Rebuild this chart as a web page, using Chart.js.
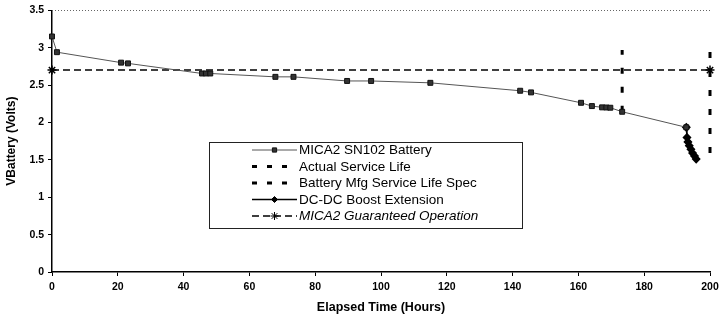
<!DOCTYPE html>
<html><head><meta charset="utf-8">
<script src="https://cdn.jsdelivr.net/npm/chart.js@4.4.1/dist/chart.umd.min.js"></script>
<style>html,body{margin:0;padding:0;background:#fff}#wrap{width:719px;height:322px;position:relative}</style>
</head><body><div id="wrap"><canvas id="c" width="719" height="322"></canvas></div>
<script>
// ---- data ----
const batteryHours = [0, 1.5, 21, 23.1, 45.6, 46.8, 48.1, 67.9, 73.4, 89.7, 97, 115, 142.3, 145.6, 160.8, 164.1, 167.2, 168.5, 169.7, 173.3, 192.8];
const batteryVolts = [3.15, 2.94, 2.80, 2.79, 2.655, 2.655, 2.655, 2.61, 2.61, 2.555, 2.555, 2.53, 2.424, 2.402, 2.263, 2.219, 2.202, 2.2, 2.197, 2.143, 1.935];
const actualLifeHours = [173.3, 173.3];
const actualLifeVolts = [2.143, 2.97];
const specLifeHours = [200, 200];
const specLifeVolts = [1.59, 3.0];
const boostHours = [192.8, 193.0, 193.3, 193.7, 194.2, 194.7, 195.3, 195.8];
const boostVolts = [1.935, 1.80, 1.74, 1.69, 1.64, 1.59, 1.55, 1.51];
const guaranteedHours = [0, 200];
const guaranteedVolts = [2.7, 2.7];
const seriesNames = ['MICA2 SN102 Battery', 'Actual Service Life', 'Battery Mfg Service Life Spec', 'DC-DC Boost Extension', 'MICA2 Guaranteed Operation'];
const xTickLabels = ['0','20','40','60','80','100','120','140','160','180','200'];
const yTickLabels = ['0','0.5','1','1.5','2','2.5','3','3.5'];
const xTitle = 'Elapsed Time (Hours)';
const yTitle = 'VBattery (Volts)';

const pts = (xs, ys) => xs.map((x, i) => ({x, y: ys[i]}));
const FONT = '"Liberation Sans", Arial, sans-serif';

const topLinePlugin = {
  id: 'topLine',
  beforeDatasetsDraw(chart) {
    const {ctx, chartArea: a, scales: {y}} = chart;
    const yy = Math.round(y.getPixelForValue(3.5)) + 0.5;
    ctx.save();
    ctx.strokeStyle = '#666'; ctx.lineWidth = 1; ctx.setLineDash([1, 2]);
    ctx.beginPath(); ctx.moveTo(a.left, yy); ctx.lineTo(a.right, yy); ctx.stroke();
    ctx.restore();
  }
};

const legendPlugin = {
  id: 'boxLegend',
  afterDraw(chart) {
    const {ctx} = chart;
    const bx = 209, by = 142, bw = 313, bh = 86;
    ctx.save();
    ctx.fillStyle = '#fff'; ctx.fillRect(bx, by, bw, bh);
    ctx.strokeStyle = '#222'; ctx.lineWidth = 1; ctx.setLineDash([]);
    ctx.strokeRect(bx + 0.5, by + 0.5, bw, bh);
    const x0 = 252, x1 = 297, tx = 299;
    chart.data.datasets.forEach((ds, i) => {
      const yy = 150 + i * 16.5;
      ctx.save();
      ctx.strokeStyle = ds.borderColor; ctx.lineWidth = ds.legendLineWidth || ds.borderWidth;
      ctx.setLineDash(ds.legendDash || ds.borderDash || []);
      ctx.beginPath(); ctx.moveTo(x0, yy); ctx.lineTo(x1, yy); ctx.stroke();
      ctx.restore();
      if (ds.pointRadius > 0) {
        ctx.save();
        ctx.setLineDash([]);
        ctx.fillStyle = ds.pointBackgroundColor; ctx.strokeStyle = ds.pointBorderColor; ctx.lineWidth = 1;
        Chart.helpers.drawPoint(ctx, {pointStyle: ds.pointStyle, radius: ds.pointRadius - 0.5, borderWidth: 1}, (x0 + x1) / 2, yy);
        ctx.restore();
      }
      ctx.fillStyle = '#000';
      ctx.font = (ds.italicLabel ? 'italic ' : '') + '13.5px ' + FONT;
      ctx.textBaseline = 'middle'; ctx.textAlign = 'left';
      ctx.fillText(ds.label, tx, yy + 0.5);
    });
    ctx.restore();
  }
};

new Chart(document.getElementById('c'), {
  type: 'scatter',
  data: {
    datasets: [
      { label: seriesNames[0], data: pts(batteryHours, batteryVolts), showLine: true, clip: false,
        borderColor: '#555', borderWidth: 1, pointStyle: 'rect', pointRadius: 3.5,
        pointBackgroundColor: '#333', pointBorderColor: '#111', pointBorderWidth: 1 },
      { label: seriesNames[1], data: pts(actualLifeHours, actualLifeVolts), showLine: true, clip: false,
        borderColor: '#000', borderWidth: 3, borderDash: [6, 13], legendDash: [5, 10], pointRadius: 0 },
      { label: seriesNames[2], data: pts(specLifeHours, specLifeVolts), showLine: true, clip: false,
        borderColor: '#000', borderWidth: 3, borderDash: [6, 13], legendDash: [5, 10], pointRadius: 0 },
      { label: seriesNames[3], data: pts(boostHours, boostVolts), showLine: true, clip: false,
        borderColor: '#000', borderWidth: 1.5, pointStyle: 'rectRot', pointRadius: 3.5,
        pointBackgroundColor: '#000', pointBorderColor: '#000' },
      { label: seriesNames[4], data: pts(guaranteedHours, guaranteedVolts), showLine: true, italicLabel: true, clip: false,
        borderColor: '#000', borderWidth: 1.5, borderDash: [7, 4], pointStyle: 'star', pointRadius: 4.5,
        pointBackgroundColor: '#000', pointBorderColor: '#000', pointBorderWidth: 1.5 }
    ]
  },
  options: {
    responsive: false, animation: false, devicePixelRatio: 1,
    layout: { padding: { left: 0, right: 0, top: 10, bottom: 7 } },
    plugins: { legend: { display: false }, tooltip: { enabled: false } },
    scales: {
      x: {
        type: 'linear', min: 0, max: 200,
        afterBuildTicks: s => { s.ticks = xTickLabels.map(v => ({value: Number(v)})); },
        afterFit: s => { s.height = 43; s.paddingRight = 9; s.paddingLeft = 0; },
        ticks: { color: '#000', font: { family: FONT, size: 10.5, weight: 'bold' }, padding: 5, maxRotation: 0,
                 callback: (v) => xTickLabels.find(t => Number(t) === v) },
        grid: { drawOnChartArea: false, tickLength: 4, tickColor: '#000' },
        border: { color: '#000', width: 1.5 },
        title: { display: true, text: xTitle, color: '#000', font: { family: FONT, size: 12.5, weight: 'bold' }, padding: { top: 4, bottom: 0 } }
      },
      y: {
        type: 'linear', min: 0, max: 3.5,
        afterBuildTicks: s => { s.ticks = yTickLabels.map(v => ({value: Number(v)})); },
        afterFit: s => { s.width = 52; },
        ticks: { color: '#000', font: { family: FONT, size: 10.5, weight: 'bold' }, padding: 4,
                 callback: (v) => yTickLabels.find(t => Number(t) === v) },
        grid: { drawOnChartArea: false, tickLength: 4, tickColor: '#000' },
        border: { color: '#000', width: 1.5 },
        title: { display: true, text: yTitle, color: '#000', font: { family: FONT, size: 12, weight: 'bold' }, padding: { top: 4, bottom: 4 } }
      }
    }
  },
  plugins: [topLinePlugin, legendPlugin]
});
</script></body></html>
